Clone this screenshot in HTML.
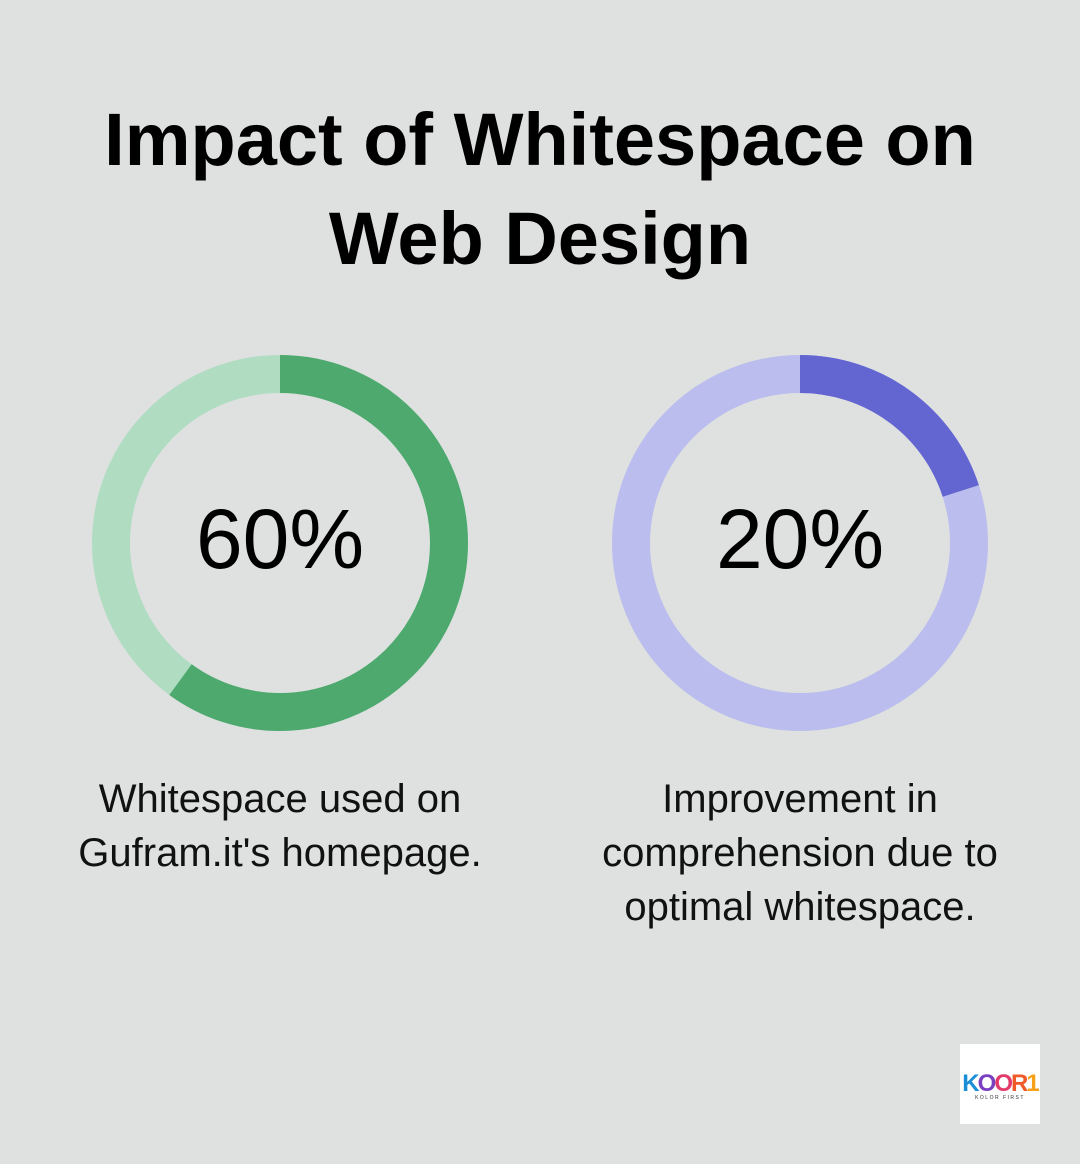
<!DOCTYPE html>
<html><head><meta charset="utf-8"><style>
html,body{margin:0;padding:0}
body{width:1080px;height:1164px;background:#dfe1e0;position:relative;overflow:hidden;font-family:"Liberation Sans",sans-serif}
.t{position:absolute;left:0;width:1080px;text-align:center;font-weight:bold;font-size:74px;color:#000}
.n{position:absolute;width:376px;text-align:center;font-size:84px;color:#000;top:491px}
.c{position:absolute;width:520px;text-align:center;font-size:40px;line-height:54px;color:#111;top:772px}
</style></head><body>
<div class="t" style="top:97px">Impact of Whitespace on</div>
<div class="t" style="top:196px">Web Design</div>
<svg width="1080" height="1164" style="position:absolute;left:0;top:0">
<circle cx="280" cy="543" r="169" fill="none" stroke="#b0dcc2" stroke-width="38"/>
<circle cx="280" cy="543" r="169" fill="none" stroke="#4ea96e" stroke-width="38" stroke-dasharray="637.1 2000" transform="rotate(-90 280 543)"/>
<circle cx="800" cy="543" r="169" fill="none" stroke="#babded" stroke-width="38"/>
<circle cx="800" cy="543" r="169" fill="none" stroke="#6366d1" stroke-width="38" stroke-dasharray="212.4 2000" transform="rotate(-90 800 543)"/>
<rect x="960" y="1044" width="80" height="80" fill="#fff"/>
<text x="1000" y="1091" text-anchor="middle" font-family="Liberation Sans" font-weight="bold" font-size="24" fill="#e8483a" letter-spacing="-2"><tspan fill="#1a8fd8">K</tspan><tspan fill="#7a3fc0">O</tspan><tspan fill="#e23a6a">O</tspan><tspan fill="#f05a28">R</tspan><tspan fill="#f7a11a">1</tspan></text>
<text x="1000" y="1099" text-anchor="middle" font-family="Liberation Sans" font-size="5" fill="#333" letter-spacing="1.5">KOLOR FIRST</text>
</svg>
<div class="n" style="left:92px">60%</div>
<div class="n" style="left:612px">20%</div>
<div class="c" style="left:20px">Whitespace used on<br>Gufram.it's homepage.</div>
<div class="c" style="left:540px">Improvement in<br>comprehension due to<br>optimal whitespace.</div>
</body></html>
